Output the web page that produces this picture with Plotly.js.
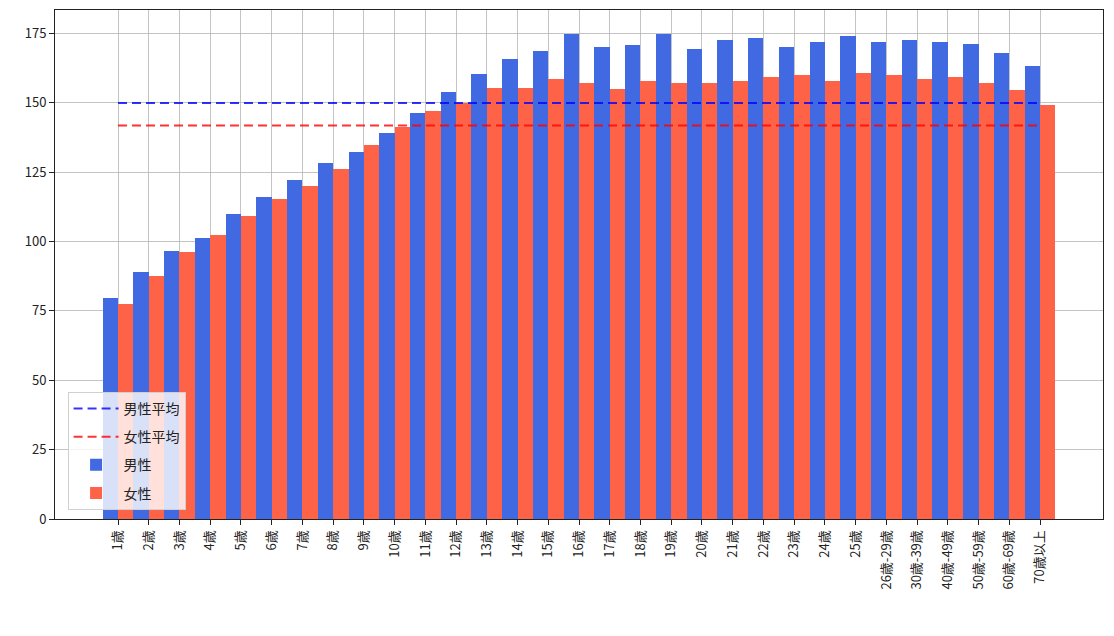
<!DOCTYPE html>
<html>
<head>
<meta charset="utf-8">
<script src="https://cdn.plot.ly/plotly-3.0.1.min.js"></script>
<style>html,body{margin:0;padding:0;background:#fff;}#chart{width:1114px;height:636px;}</style>
</head>
<body>
<div id="chart"></div>
<script>
const categories = ["1歳","2歳","3歳","4歳","5歳","6歳","7歳","8歳","9歳","10歳","11歳","12歳","13歳","14歳","15歳","16歳","17歳","18歳","19歳","20歳","21歳","22歳","23歳","24歳","25歳","26歳-29歳","30歳-39歳","40歳-49歳","50歳-59歳","60歳-69歳","70歳以上"];
const male = [79.6,89.0,96.5,101.2,110.0,115.9,122.1,128.2,132.1,139.0,146.2,153.7,160.5,165.8,168.6,174.7,169.9,170.7,174.7,169.2,172.5,173.3,169.9,171.9,174.0,171.9,172.5,171.9,171.2,167.9,163.1];
const female = [77.6,87.7,96.3,102.5,109.2,115.4,120.0,126.2,134.9,141.4,147.1,149.9,155.2,155.2,158.5,157.1,155.0,157.9,157.1,157.1,157.9,159.1,160.0,157.9,160.6,160.0,158.5,159.1,157.1,154.5,149.0];
const seriesNames = ["男性","女性","男性平均","女性平均"];

const mean = a => a.reduce((s,v)=>s+v,0)/a.length;
const maleAvg = mean(male);
const femaleAvg = mean(female);
const idx = categories.map((c,i)=>i);
const ends = [0, categories.length-1];

const FONT = '"Noto Sans CJK JP", "DejaVu Sans", sans-serif';
const XR = [-2.05, 32.05];
const YR = [0, 183.4];

const traces = [
  {type:'scatter', mode:'lines', x:ends, y:[maleAvg,maleAvg], name:seriesNames[2], legendgroup:'a',
   line:{color:'rgba(0,0,255,0.8)', width:2, dash:'9px,5px'}, hoverinfo:'skip'},
  {type:'scatter', mode:'lines', x:ends, y:[femaleAvg,femaleAvg], name:seriesNames[3], legendgroup:'b',
   line:{color:'rgba(255,0,0,0.8)', width:2, dash:'9px,5px'}, hoverinfo:'skip'},
  {type:'bar', x:idx, y:male, name:seriesNames[0], legendgroup:'c', marker:{color:'#4169E1'}},
  {type:'bar', x:idx, y:female, name:seriesNames[1], legendgroup:'d', marker:{color:'#FF6347'}},
  {type:'scatter', mode:'markers', x:[], y:[], xaxis:'x2', yaxis:'y2', showlegend:false, hoverinfo:'skip'}
];

const gridAxis = {showgrid:true, gridcolor:'rgba(176,176,176,0.75)', gridwidth:1, zeroline:false,
  showticklabels:false, ticks:'', showline:false};

const layout = {
  width:1114, height:636,
  margin:{l:55, r:11, t:10, b:117},
  paper_bgcolor:'#fff', plot_bgcolor:'rgba(0,0,0,0)',
  barmode:'group', bargap:0, bargroupgap:0,
  font:{family:FONT, size:13, color:'#222'},
  showlegend:true,
  legend:{x:0.012, y:0.018, xanchor:'left', yanchor:'bottom',
    bgcolor:'rgba(255,255,255,0.8)', bordercolor:'#d0d0d0', borderwidth:1,
    font:{family:FONT, size:14, color:'#222'}, traceorder:'grouped', tracegroupgap:7,
    itemwidth:45, entrywidth:110},
  xaxis:{
    type:'linear', range:XR,
    tickmode:'array', tickvals:idx, ticktext:categories, tickangle:-90,
    showgrid:false,
    showline:true, linecolor:'#222', linewidth:1, mirror:true,
    ticks:'outside', ticklen:5, tickcolor:'#222',
    zeroline:false, tickfont:{family:FONT, size:13, color:'#222'}
  },
  yaxis:{
    range:YR, dtick:25, tick0:0,
    showgrid:false,
    showline:true, linecolor:'#222', linewidth:1, mirror:true,
    ticks:'outside', ticklen:5, tickcolor:'#222',
    zeroline:false, tickfont:{family:FONT, size:13, color:'#222'}
  },
  xaxis2: Object.assign({overlaying:'x', range:XR, tickmode:'array', tickvals:idx}, gridAxis),
  yaxis2: Object.assign({overlaying:'y', range:YR, dtick:25, tick0:0}, gridAxis)
};

Plotly.newPlot('chart', traces, layout, {displayModeBar:false, staticPlot:true});
</script>
</body>
</html>
